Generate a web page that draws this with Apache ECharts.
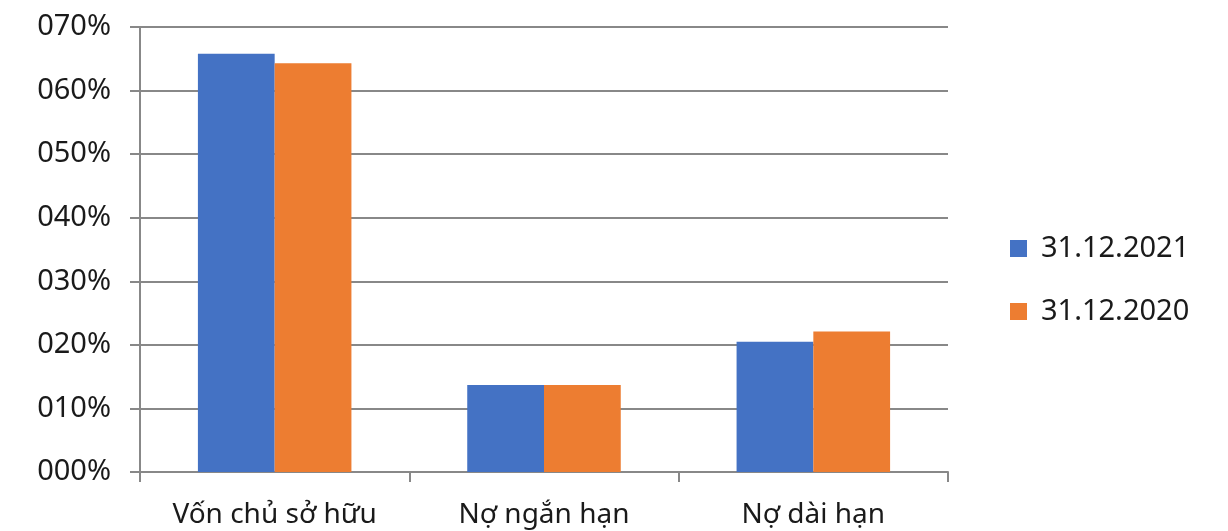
<!DOCTYPE html>
<html>
<head>
<meta charset="utf-8">
<script src="https://cdn.jsdelivr.net/npm/echarts@6/dist/echarts.min.js"></script>
<style>
html, body { margin: 0; padding: 0; background: #fff; }
#chart { width: 1228px; height: 531px; }
</style>
</head>
<body>
<div id="chart"></div>
<script>
// danh mục và số liệu (%)
var categories = ['Vốn chủ sở hữu', 'Nợ ngắn hạn', 'Nợ dài hạn'];
var seriesNames = ['31.12.2021', '31.12.2020'];
var values2021 = [65.8, 13.7, 20.5];
var values2020 = [64.3, 13.7, 22.1];
var yTicks = [0, 10, 20, 30, 40, 50, 60, 70];

var myChart = echarts.init(document.getElementById('chart'));

var fontFamily = '"Noto Sans", "Open Sans", sans-serif';

var option = {
    color: ['#4472C4', '#ED7D31'],
    animation: false,
    grid: {
        left: 140,
        right: 280,
        top: 27,
        bottom: 59
    },
    legend: {
        orient: 'vertical',
        left: 1005,
        top: 229,
        itemWidth: 17,
        itemHeight: 17,
        itemGap: 34,
        icon: 'rect',
        textStyle: { fontSize: 29, color: '#1a1a1a', fontFamily: fontFamily, padding: [0, 0, 0, 9] },
        data: seriesNames
    },
    xAxis: {
        type: 'category',
        data: categories,
        axisLine: { lineStyle: { color: '#888', width: 2 } },
        axisTick: { show: true, length: 10, lineStyle: { color: '#888', width: 2 } },
        axisLabel: { interval: 0, hideOverlap: false, fontSize: 28, color: '#1a1a1a', fontFamily: fontFamily, margin: 29 }
    },
    yAxis: {
        type: 'value',
        min: yTicks[0],
        max: yTicks[yTicks.length - 1],
        interval: 10,
        axisLine: { show: true, lineStyle: { color: '#888', width: 2 } },
        axisTick: { show: true, length: 10, lineStyle: { color: '#888', width: 2 } },
        splitLine: { lineStyle: { color: '#888', width: 2 } },
        axisLabel: {
            fontSize: 29,
            color: '#1a1a1a',
            fontFamily: fontFamily,
            margin: 29,
            formatter: function (v) {
                return ('00' + v).slice(-3) + '%';
            }
        }
    },
    series: [
        {
            name: seriesNames[0],
            type: 'bar',
            barGap: '0%',
            barCategoryGap: '43%',
            data: values2021
        },
        {
            name: seriesNames[1],
            type: 'bar',
            data: values2020
        }
    ]
};

myChart.setOption(option);
</script>
</body>
</html>
